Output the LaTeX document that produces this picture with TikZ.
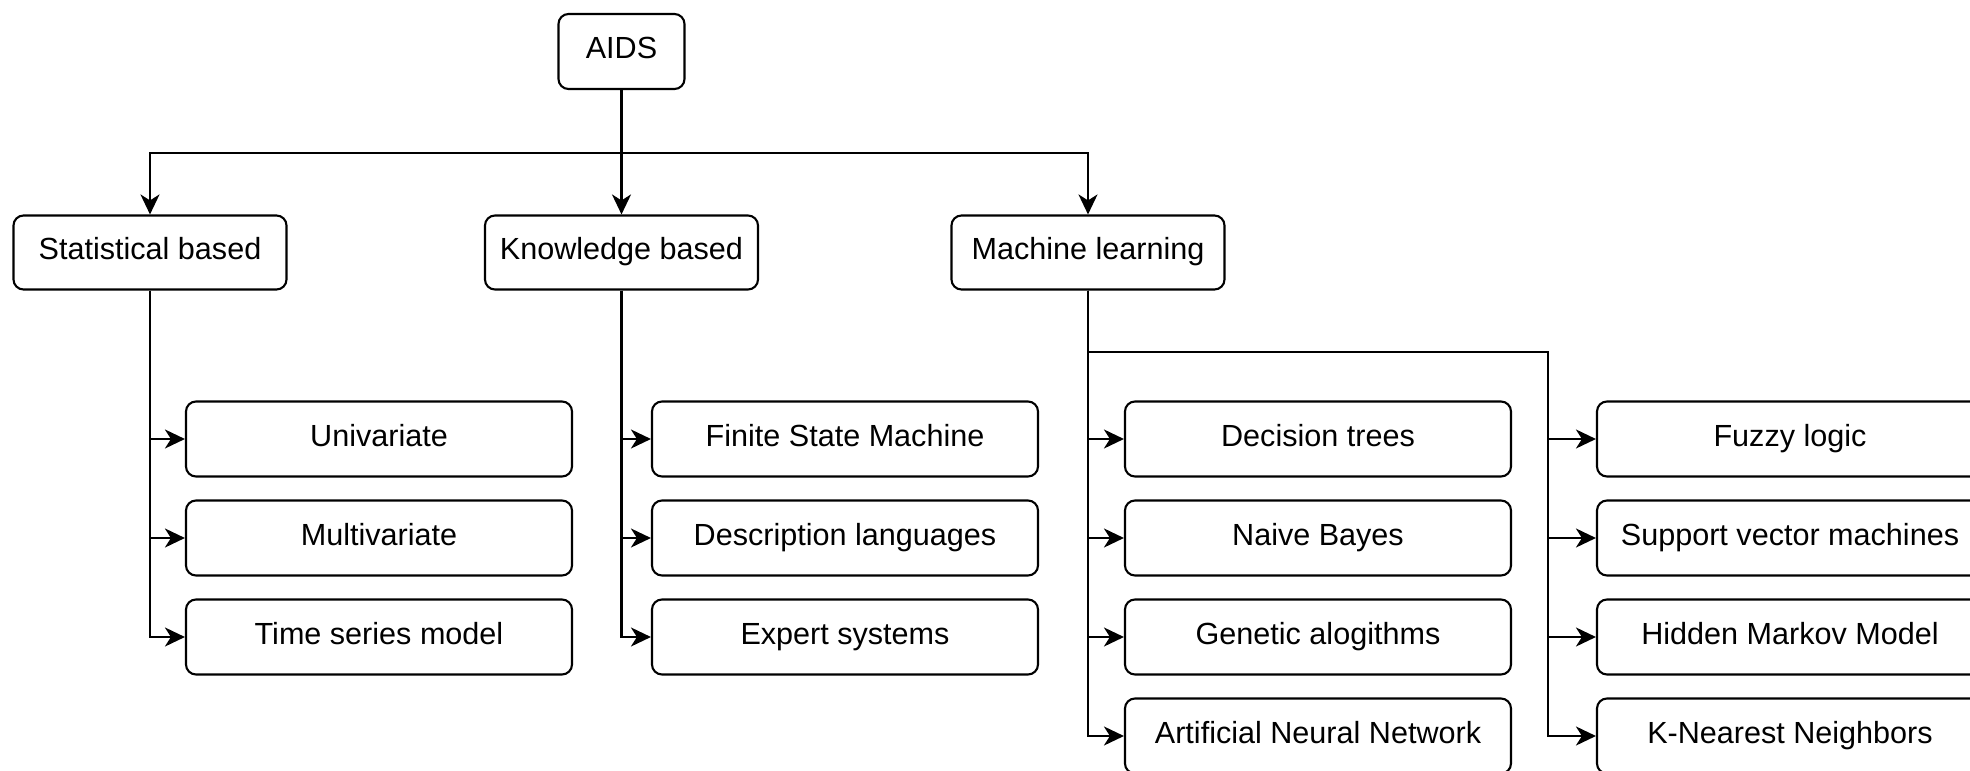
\documentclass[tikz,border=0pt]{standalone}
\usepackage{fontspec}
\setmainfont{Liberation Sans}
\usetikzlibrary{arrows.meta}
\tikzset{
    box/.style={draw,line width=1.2pt,rounded corners=0.2cm,inner sep=0pt,minimum height=1.5cm,align=center,text height=0.44cm,text depth=0.16cm,font=\fontsize{17.4}{20}\selectfont},
    rootbox/.style={box,minimum width=2.52cm},
    groupbox/.style={box,minimum width=5.46cm,minimum height=1.48cm},
    leafbox/.style={box,minimum width=7.72cm},
    arr/.style={-{Stealth[length=0.4cm,width=0.38cm,inset=0.12cm]},line width=1.4pt}
}
\begin{document}
\begin{tikzpicture}
        \useasboundingbox (0,0) rectangle (39.4,-15.42);
        \clip (0,0) rectangle (39.4,-15.42);
        %% Root
        \node[rootbox] (aids) at (12.43,-1.03) {AIDS};
        %% Categories
        \node[groupbox] (stat) at (3.0,-5.05) {Statistical based};
        \node[groupbox] (know) at (12.43,-5.05) {Knowledge based};
        \node[groupbox] (ml) at (21.76,-5.05) {Machine learning};
        %% Statistical based
        \node[leafbox] (uni) at (7.58,-8.78) {Univariate};
        \node[leafbox] (multi) at (7.58,-10.76) {Multivariate};
        \node[leafbox] (tsm) at (7.58,-12.74) {Time series model};
        %% Knowledge based
        \node[leafbox] (fsm) at (16.9,-8.78) {Finite State Machine};
        \node[leafbox] (desc) at (16.9,-10.76) {Description languages};
        \node[leafbox] (expert) at (16.9,-12.74) {Expert systems};
        %% Machine learning
        \node[leafbox] (dt) at (26.36,-8.78) {Decision trees};
        \node[leafbox] (nb) at (26.36,-10.76) {Naive Bayes};
        \node[leafbox] (ga) at (26.36,-12.74) {Genetic alogithms};
        \node[leafbox] (ann) at (26.36,-14.72) {Artificial Neural Network};
        \node[leafbox] (fuzzy) at (35.8,-8.78) {Fuzzy logic};
        \node[leafbox] (svm) at (35.8,-10.76) {Support vector machines};
        \node[leafbox] (hmm) at (35.8,-12.74) {Hidden Markov Model};
        \node[leafbox] (knn) at (35.8,-14.72) {K-Nearest Neighbors};
        %% Links
        \coordinate (split) at (12.43,-3.06);
        \coordinate (mlfork) at (30.96,-7.04);
        \draw[arr] (aids.south) -- (split) -| (stat.north);
        \draw[arr] (split) -| (ml.north);
        \draw[arr] (aids.south) -- (know.north);
        \foreach \n in {uni,multi,tsm} \draw[arr] (stat.south) |- (\n.west);
        \foreach \n in {fsm,desc,expert} \draw[arr] (know.south) |- (\n.west);
        \foreach \n in {dt,nb,ga,ann} \draw[arr] (ml.south) |- (\n.west);
        \foreach \n in {fuzzy,svm,hmm,knn} \draw[arr] (ml.south) |- (mlfork) |- (\n.west);
    \end{tikzpicture}
\end{document}
